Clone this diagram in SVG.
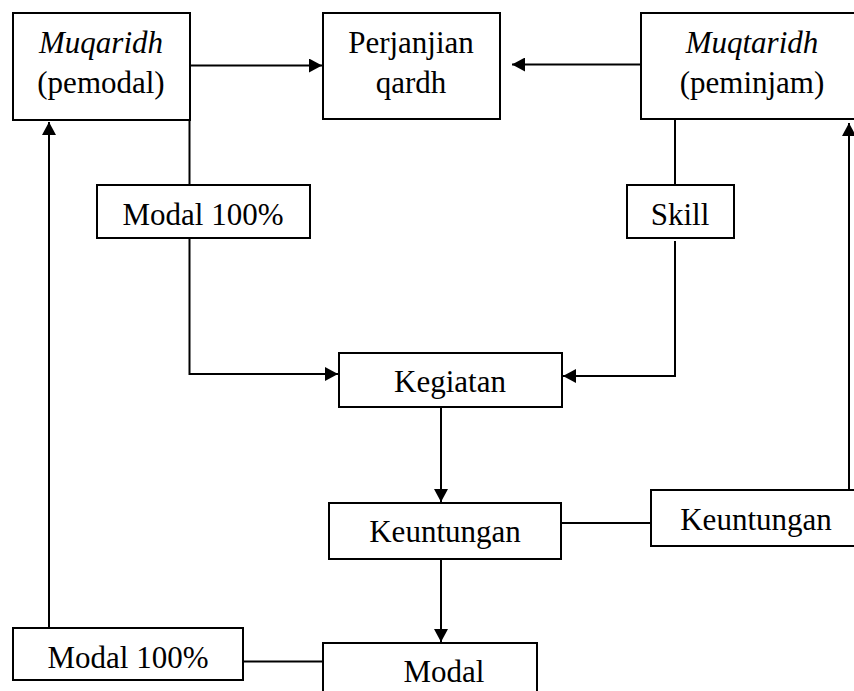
<svg xmlns="http://www.w3.org/2000/svg" width="854" height="691" viewBox="0 0 854 691">
<style>
.box{fill:#fff;stroke:#000;stroke-width:2}
.t{font-family:"Liberation Serif","Times New Roman",serif;font-size:31px;fill:#000;text-anchor:middle}
.i{font-style:italic}
.c{fill:none;stroke:#000;stroke-width:2}
</style>
<defs>
<marker id="ah" markerUnits="userSpaceOnUse" markerWidth="14" markerHeight="14" refX="13" refY="7" orient="auto">
<path d="M0,0 L13,7 L0,14 z" fill="#000"/>
</marker>
</defs>
<rect width="854" height="691" fill="#fff"/>
<g id="connectors">
<line class="c" x1="190" y1="65.5" x2="322" y2="65.5" marker-end="url(#ah)"/>
<line class="c" x1="641" y1="64.5" x2="512" y2="64.5" marker-end="url(#ah)"/>
<line class="c" x1="189.5" y1="120" x2="189.5" y2="185"/>
<polyline class="c" points="189.5,238 189.5,374 338,374" marker-end="url(#ah)"/>
<line class="c" x1="675" y1="119" x2="675" y2="185"/>
<polyline class="c" points="675,241 675,376 563,376" marker-end="url(#ah)"/>
<line class="c" x1="441" y1="407" x2="441" y2="502" marker-end="url(#ah)"/>
<line class="c" x1="561" y1="523" x2="651" y2="523"/>
<line class="c" x1="849" y1="490" x2="849" y2="123" marker-end="url(#ah)"/>
<line class="c" x1="441" y1="559" x2="441" y2="642" marker-end="url(#ah)"/>
<line class="c" x1="243" y1="661.5" x2="323" y2="661.5"/>
<line class="c" x1="49" y1="628" x2="49" y2="122" marker-end="url(#ah)"/>
</g>
<g id="muqaridh">
<rect class="box" x="13" y="13" width="177" height="107"/>
<text class="t i" x="101" y="53">Muqaridh</text>
<text class="t" x="101" y="93">(pemodal)</text>
</g>
<g id="perjanjian">
<rect class="box" x="323" y="13" width="177" height="106"/>
<text class="t" x="411" y="53">Perjanjian</text>
<text class="t" x="411" y="93">qardh</text>
</g>
<g id="muqtaridh">
<rect class="box" x="641" y="13" width="220" height="106"/>
<text class="t i" x="752" y="53">Muqtaridh</text>
<text class="t" x="752" y="93">(peminjam)</text>
</g>
<g id="modal100-top">
<rect class="box" x="97" y="185" width="213" height="53"/>
<text class="t" x="203" y="225">Modal 100%</text>
</g>
<g id="skill">
<rect class="box" x="627" y="185" width="107" height="53"/>
<text class="t" x="680" y="225">Skill</text>
</g>
<g id="kegiatan">
<rect class="box" x="339" y="353" width="223" height="54"/>
<text class="t" x="450" y="392">Kegiatan</text>
</g>
<g id="keuntungan">
<rect class="box" x="329" y="503" width="232" height="56"/>
<text class="t" x="445" y="542">Keuntungan</text>
</g>
<g id="keuntungan-right">
<rect class="box" x="651" y="490" width="210" height="56"/>
<text class="t" x="756" y="530">Keuntungan</text>
</g>
<g id="modal100-bottom">
<rect class="box" x="13" y="628" width="230" height="52"/>
<text class="t" x="128" y="668">Modal 100%</text>
</g>
<g id="modal">
<rect class="box" x="323" y="643" width="214" height="60"/>
<text class="t" x="444" y="682">Modal</text>
</g>
</svg>
